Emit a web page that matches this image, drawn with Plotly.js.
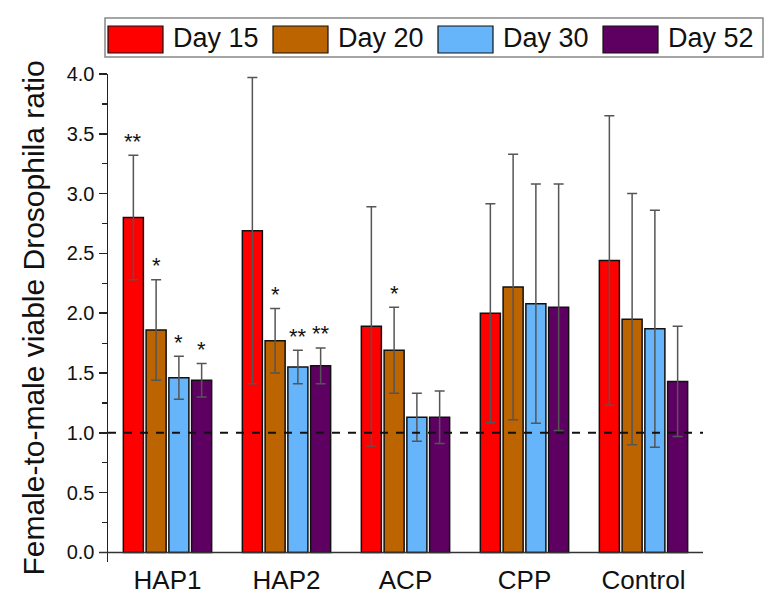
<!DOCTYPE html>
<html>
<head>
<meta charset="utf-8">
<script src="https://cdn.plot.ly/plotly-3.0.1.min.js"></script>
<style>body{margin:0;padding:0;background:#fff;}#chart{width:782px;height:611px;}</style>
</head>
<body>
<div id="chart"></div>
<script>
// ---- data ----
var categories = ['HAP1', 'HAP2', 'ACP', 'CPP', 'Control'];
var seriesNames = ['Day 15', 'Day 20', 'Day 30', 'Day 52'];
var day15 = [2.80, 2.69, 1.89, 2.00, 2.44];
var day15Err = [0.52, 1.28, 1.00, 0.915, 1.21];
var day20 = [1.86, 1.77, 1.69, 2.22, 1.95];
var day20Err = [0.42, 0.27, 0.36, 1.11, 1.05];
var day30 = [1.46, 1.55, 1.13, 2.08, 1.87];
var day30Err = [0.18, 0.14, 0.20, 1.00, 0.99];
var day52 = [1.44, 1.56, 1.13, 2.05, 1.43];
var day52Err = [0.14, 0.15, 0.22, 1.03, 0.46];
var sig15 = ['**', '', '', '', ''];
var sig20 = ['*', '*', '*', '', ''];
var sig30 = ['*', '**', '', '', ''];
var sig52 = ['*', '**', '', '', ''];
var referenceLevel = 1.0;
var yTickValues = [0, 0.5, 1, 1.5, 2, 2.5, 3, 3.5, 4];

// ---- styling ----
var colors = ['#FF0000', '#BB6400', '#66B5FA', '#5E0062'];
var values = [day15, day20, day30, day52];
var errs = [day15Err, day20Err, day30Err, day52Err];
var sigs = [sig15, sig20, sig30, sig52];

var W = 782, H = 611;
var M = {l: 108, r: 79, t: 74, b: 49};
var PW = W - M.l - M.r, PH = H - M.t - M.b;
function px(x) { return (x - M.l) / PW; }
function py(y) { return (H - M.b - y) / PH; }

var FONT = 'Liberation Sans, Arial, sans-serif';

var traces = values.map(function (v, i) {
  return {
    type: 'bar',
    name: seriesNames[i],
    x: categories,
    y: v,
    marker: {color: colors[i], line: {color: '#111', width: 1.5}},
    error_y: {type: 'data', array: errs[i], visible: true, color: '#555', thickness: 1.5, width: 5},
    showlegend: false,
    hoverinfo: 'x+y'
  };
});

var shapes = [];
var annotations = [];

// reference dashed line
shapes.push({type: 'line', xref: 'paper', x0: 0, x1: 1, yref: 'y', y0: referenceLevel, y1: referenceLevel,
  line: {color: '#111', width: 2, dash: '8px,8px'}});
// x axis baseline (Origin style, crossing the y axis)
shapes.push({type: 'line', xref: 'paper', x0: px(99), x1: 1, yref: 'y', y0: 0, y1: 0,
  line: {color: '#333', width: 1.5}});

// significance markers
var slotPx = PW / categories.length;
var bargap = 0.235, groupgap = 0.12;
var pitch = slotPx * (1 - bargap) / 4;
sigs.forEach(function (s, i) {
  s.forEach(function (t, j) {
    if (!t) return;
    annotations.push({
      x: categories[j], y: values[i][j] + errs[i][j], xref: 'x', yref: 'y',
      text: t, showarrow: false, xshift: (i - 1.5) * pitch, yshift: 14,
      yanchor: 'middle', font: {family: FONT, size: 22, color: '#111'}
    });
  });
});

// custom legend (large swatches like the reference)
shapes.push({type: 'rect', xref: 'paper', yref: 'paper', x0: px(105), x1: px(763), y0: py(57), y1: py(18),
  line: {color: '#888', width: 1.5}, fillcolor: 'rgba(0,0,0,0)'});
var legStart = [108, 273, 438, 603];
seriesNames.forEach(function (n, i) {
  shapes.push({type: 'rect', xref: 'paper', yref: 'paper', x0: px(legStart[i]), x1: px(legStart[i] + 55),
    y0: py(53), y1: py(26), line: {color: '#111', width: 1.2}, fillcolor: colors[i]});
  annotations.push({xref: 'paper', yref: 'paper', x: px(legStart[i] + 63), y: py(38), text: n,
    showarrow: false, xanchor: 'left', yanchor: 'middle', font: {family: FONT, size: 27, color: '#111'}});
});

var layout = {
  width: W, height: H,
  margin: M,
  paper_bgcolor: '#fff', plot_bgcolor: '#fff',
  barmode: 'group', bargap: bargap, bargroupgap: groupgap,
  font: {family: FONT, color: '#111'},
  xaxis: {
    type: 'category', range: [-0.5, 4.5], showline: false, showgrid: false, zeroline: false,
    ticks: '', tickfont: {family: FONT, size: 26, color: '#111'}, fixedrange: true
  },
  yaxis: {
    range: [-0.08, 4.0], showline: true, linecolor: '#222', linewidth: 1.5,
    showgrid: false, zeroline: false, tickvals: yTickValues, tickformat: '.1f',
    ticks: 'outside', ticklen: 8, tickwidth: 1.5, tickcolor: '#222',
    minor: {dtick: 0.25, ticks: 'outside', ticklen: 5, tickwidth: 1.2, tickcolor: '#222'},
    tickfont: {family: FONT, size: 20, color: '#111'},
    title: {text: 'Female-to-male viable Drosophila ratio', font: {family: FONT, size: 30, color: '#111'}, standoff: 13}
  },
  shapes: shapes,
  annotations: annotations,
  showlegend: false
};

Plotly.newPlot('chart', traces, layout, {displayModeBar: false, staticPlot: true});
</script>
</body>
</html>
